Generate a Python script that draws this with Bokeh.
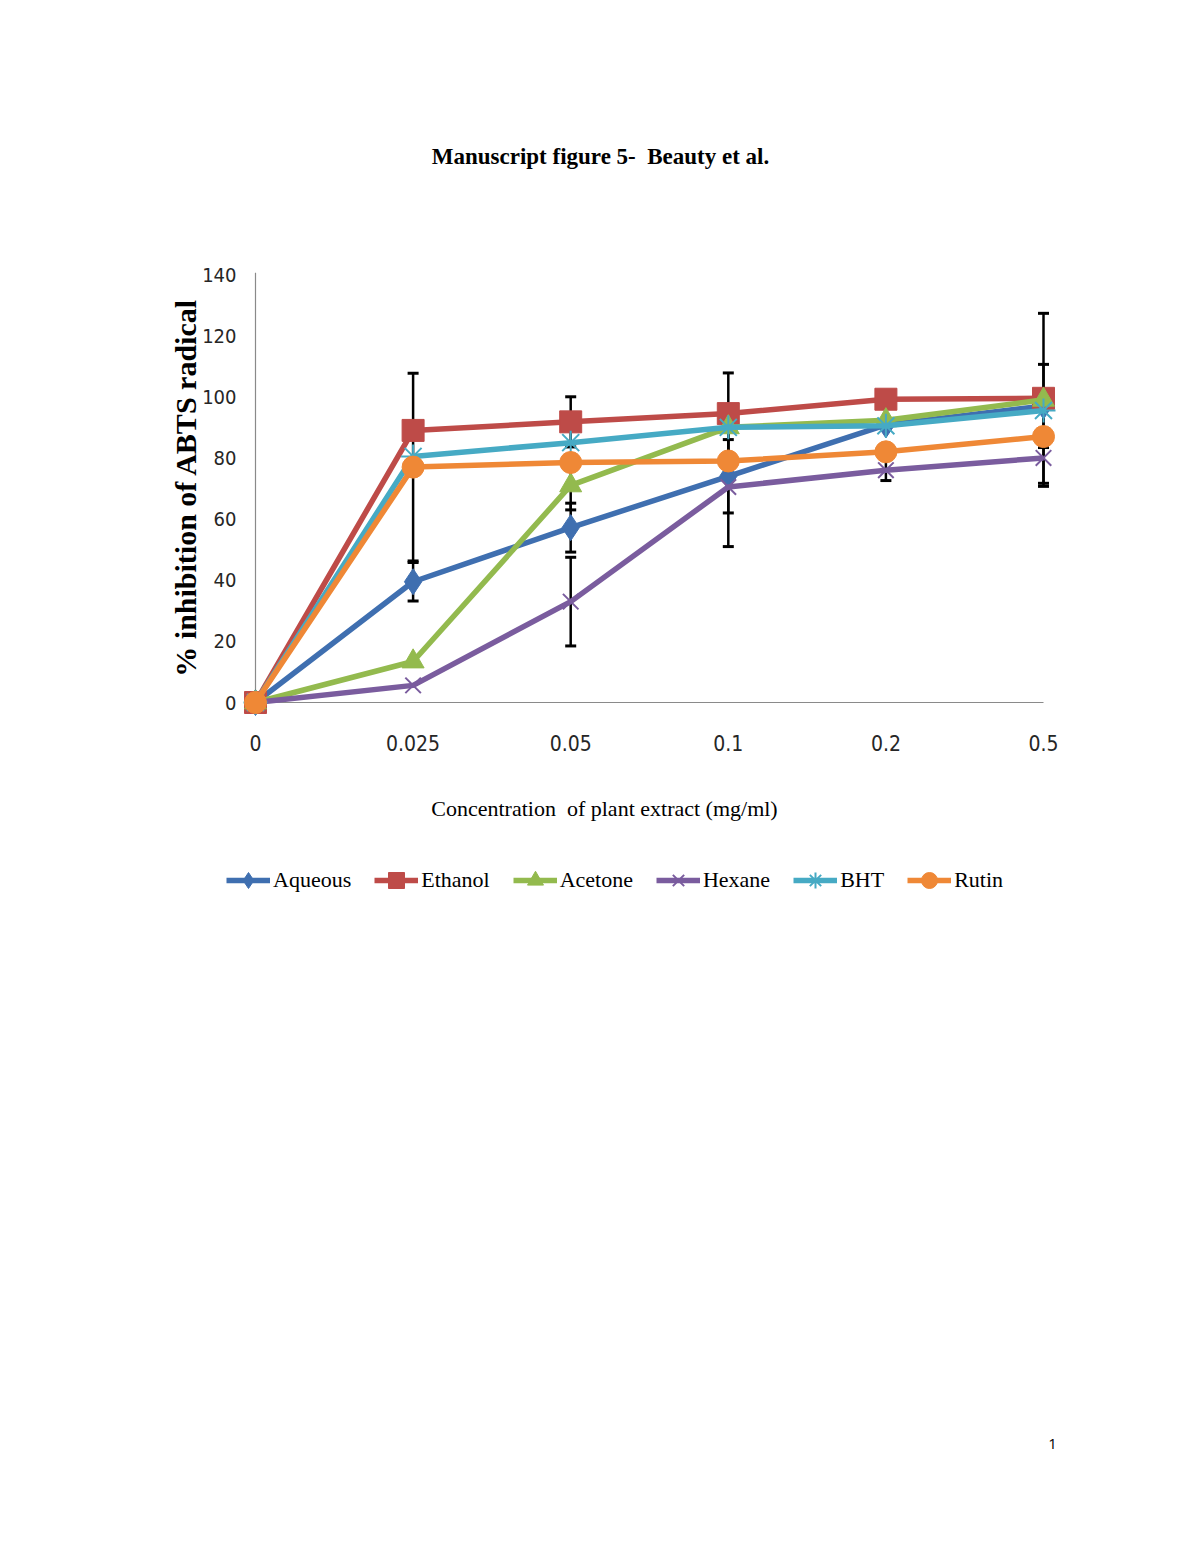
import math
from bokeh.plotting import figure
from bokeh.models import (Range1d, FixedTicker, Legend, LegendItem, Label,
                          Whisker, ColumnDataSource, TeeHead)
from bokeh.embed import file_html
from bokeh.resources import INLINE

# ---- data ----
concentrations = ["0", "0.025", "0.05", "0.1", "0.2", "0.5"]
y_ticks = [0, 20, 40, 60, 80, 100, 120, 140]

aqueous = [0, 39.5, 57.2, 74.0, 90.8, 97.0]
ethanol = [0, 89.0, 91.8, 94.5, 99.2, 99.5]
acetone = [0, 13.4, 71.0, 90.0, 92.3, 99.0]
hexane = [0, 5.6, 33.0, 70.5, 76.0, 80.0]
bht = [0, 80.5, 85.0, 90.0, 90.5, 95.5]
rutin = [0, 77.0, 78.5, 79.0, 82.0, 87.0]

aqueous_err = [0, 6.3, 8.0, 12.0, 0, 13.6]
ethanol_err = [0, 0, 8.2, 13.3, 0, 27.8]
acetone_err = [0, 0, 8.0, 0, 0, 0]
hexane_err = [0, 0, 14.5, 19.5, 3.4, 9.3]
bht_err = [0, 0, 0, 0, 0, 0]
rutin_err = [0, 30.7, 0, 0, 0, 0]

series_names = ["Aqueous", "Ethanol", "Acetone", "Hexane", "BHT", "Rutin"]
series_values = [aqueous, ethanol, acetone, hexane, bht, rutin]
series_errors = [aqueous_err, ethanol_err, acetone_err, hexane_err, bht_err, rutin_err]

# ---- styles / layout ----
colors = ["#3F6FB0", "#BE4B48", "#93BA4E", "#7A5C9E", "#46AAC4", "#EF8836"]
markers = ["diamond", "square", "triangle", "x", "asterisk", "circle"]
msizes = [26, 22, 22, 22, 24, 22]

W, H = 1184, 1537
# pixel geometry of the plot area on the page
X0_PX, X_STEP_PX = 255.0, 157.6      # x of first category, px per category
Y0_PX, Y_PX_PER_UNIT = 702.0, 428.0 / 140.0

x_idx = list(range(len(concentrations)))

x_start = -X0_PX / X_STEP_PX
x_end = (W - X0_PX) / X_STEP_PX
y_start = -(H - Y0_PX) / Y_PX_PER_UNIT
y_end = Y0_PX / Y_PX_PER_UNIT

p = figure(width=W, height=H,
           x_range=Range1d(x_start, x_end), y_range=Range1d(y_start, y_end),
           output_backend="svg", toolbar_location=None,
           min_border_left=0, min_border_right=0,
           min_border_top=0, min_border_bottom=0)
p.outline_line_color = None
p.xgrid.visible = False
p.ygrid.visible = False
p.background_fill_color = "white"
p.border_fill_color = "white"

tick_font = "DejaVu Sans Condensed, Liberation Sans"

p.xaxis.fixed_location = 0
p.xaxis.ticker = FixedTicker(ticks=x_idx)
p.xaxis.major_label_overrides = {i: c for i, c in zip(x_idx, concentrations)}
p.xaxis.axis_line_color = None
p.xaxis.major_tick_line_color = None
p.xaxis.minor_tick_line_color = None
p.xaxis.major_label_standoff = 26
p.xaxis.major_label_text_font = tick_font
p.xaxis.major_label_text_font_size = "21px"
p.xaxis.major_label_text_color = "#262626"

p.yaxis.fixed_location = 0
p.yaxis.ticker = FixedTicker(ticks=y_ticks)
p.yaxis.axis_line_color = None
p.yaxis.major_tick_line_color = None
p.yaxis.minor_tick_line_color = None
p.yaxis.major_label_standoff = 13
p.yaxis.major_label_text_font = tick_font
p.yaxis.major_label_text_font_size = "20px"
p.yaxis.major_label_text_color = "#262626"

# axis lines (from first to last category, 0 to top)
p.segment(x0=[x_idx[0]], y0=[0], x1=[x_idx[-1]], y1=[0], line_color="#8a8a8a", line_width=1.2, level="underlay")
p.segment(x0=[x_idx[0]], y0=[0], x1=[x_idx[0]], y1=[y_ticks[-1] + 0.6], line_color="#8a8a8a", line_width=1.2, level="underlay")

# error bars
for vals, errs in zip(series_values, series_errors):
    xs = [x for x, e in zip(x_idx, errs) if e > 0]
    up = [v + e for v, e in zip(vals, errs) if e > 0]
    lo = [v - e for v, e in zip(vals, errs) if e > 0]
    if not xs:
        continue
    src = ColumnDataSource(dict(x=xs, upper=up, lower=lo))
    w = Whisker(base="x", upper="upper", lower="lower", source=src,
                dimension="height", line_color="black", line_width=2.5,
                upper_head=TeeHead(size=11, line_width=3, line_color="black"),
                lower_head=TeeHead(size=11, line_width=3, line_color="black"))
    p.add_layout(w)

items = []
for name, vals, col, mk, ms in zip(series_names, series_values, colors, markers, msizes):
    ln = p.line(x_idx, vals, line_color=col, line_width=5.5)
    if mk in ("x", "asterisk"):
        sc = p.scatter(x_idx, vals, marker=mk, size=ms, line_color=col, line_width=2, fill_color=col)
    else:
        sc = p.scatter(x_idx, vals, marker=mk, size=ms, line_color=col, fill_color=col, line_width=1)
    items.append(LegendItem(label=name, renderers=[ln, sc]))

legend = Legend(items=items, orientation="horizontal", location=(226, H - 900),
                glyph_width=44, glyph_height=40, label_standoff=3, spacing=23,
                padding=0, margin=0, border_line_color=None, background_fill_alpha=0,
                label_text_font="Liberation Serif", label_text_font_size="22px",
                label_text_color="black")
p.add_layout(legend, "center")

title = Label(x=600, y=H - 156, x_units="screen", y_units="screen",
              text="Manuscript figure 5-\u00a0 Beauty et al.", text_align="center",
              text_baseline="middle", text_font="Liberation Serif",
              text_font_style="bold", text_font_size="23px", text_color="black")
p.add_layout(title)

ytitle = Label(x=185, y=H - 487, x_units="screen", y_units="screen", angle=math.pi / 2,
               text="% inhibition of ABTS radical", text_align="center",
               text_baseline="middle", text_font="Liberation Serif",
               text_font_style="bold", text_font_size="30px", text_color="black")
p.add_layout(ytitle)

xtitle = Label(x=604, y=H - 808, x_units="screen", y_units="screen",
               text="Concentration\u00a0 of plant extract (mg/ml)", text_align="center",
               text_baseline="middle", text_font="Liberation Serif",
               text_font_size="22px", text_color="black")
p.add_layout(xtitle)

page_no = Label(x=1052, y=H - 1443, x_units="screen", y_units="screen",
                text="1", text_align="center", text_baseline="middle",
                text_font="Open Sans", text_font_size="15px", text_color="black")
p.add_layout(page_no)

open("out.html", "w").write(file_html(p, INLINE))
